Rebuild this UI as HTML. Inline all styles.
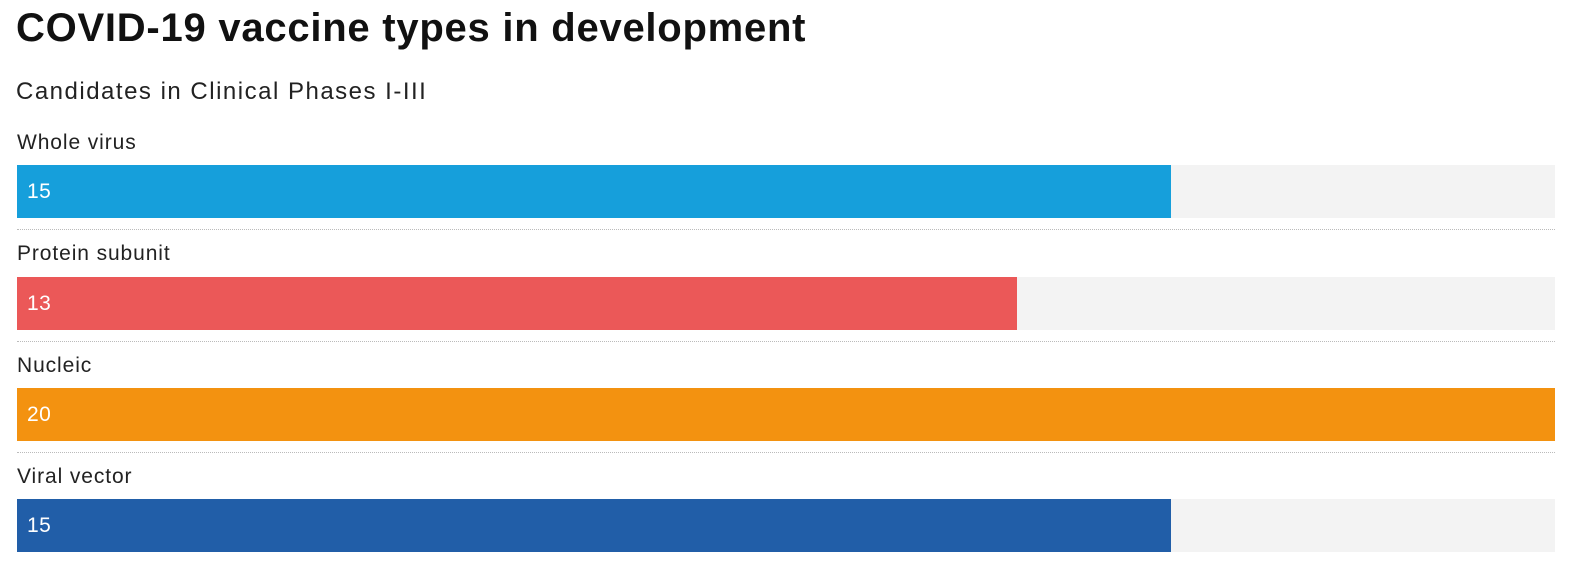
<!DOCTYPE html>
<html><head><meta charset="utf-8"><style>
html,body{margin:0;padding:0}
body{width:1575px;height:578px;background:#fff;font-family:"Liberation Sans",sans-serif;position:relative;overflow:hidden;color:#222}
.t{position:absolute;left:16px;top:6px;font-size:40px;font-weight:bold;color:#111;letter-spacing:0.75px;white-space:nowrap}
.s{position:absolute;left:16px;top:78px;font-size:24px;color:#222;letter-spacing:1.5px;white-space:nowrap}
.l{position:absolute;left:17px;font-size:21px;color:#222;letter-spacing:0.9px;white-space:nowrap}
.bg{position:absolute;left:17px;width:1538px;height:53px;background:#f3f3f3}
.b{position:absolute;left:0;top:0;height:53px;color:#fff;font-size:21px;line-height:53px;padding-left:10px;box-sizing:border-box;letter-spacing:0.5px}
.d{position:absolute;left:17px;width:1538px;border-top:1px dotted #bbb}
</style></head><body>
<div class="t">COVID-19 vaccine types in development</div>
<div class="s">Candidates in Clinical Phases I-III</div>

<div class="l" style="top:131px">Whole virus</div>
<div class="bg" style="top:165px"><div class="b" style="width:1153.5px;background:#169fdb">15</div></div>
<div class="d" style="top:229px"></div>

<div class="l" style="top:242px">Protein subunit</div>
<div class="bg" style="top:277px"><div class="b" style="width:1000px;background:#eb5858">13</div></div>
<div class="d" style="top:341px"></div>

<div class="l" style="top:354px">Nucleic</div>
<div class="bg" style="top:388px"><div class="b" style="width:1538px;background:#f39210">20</div></div>
<div class="d" style="top:452px"></div>

<div class="l" style="top:465px">Viral vector</div>
<div class="bg" style="top:499px"><div class="b" style="width:1153.5px;background:#215ea8">15</div></div>
</body></html>
